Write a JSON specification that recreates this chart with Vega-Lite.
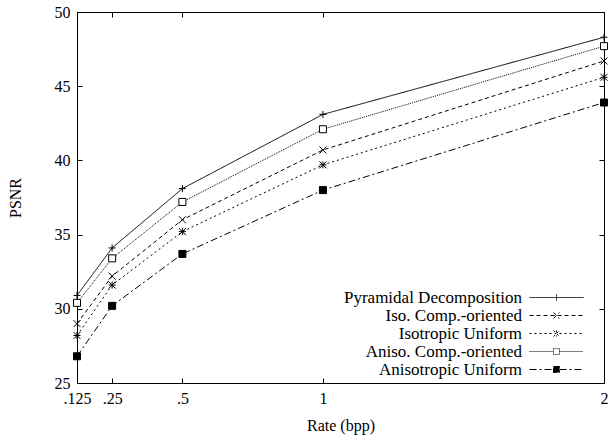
{
  "$schema": "https://vega.github.io/schema/vega-lite/v6.json",
  "width": 527,
  "height": 371,
  "autosize": {"type": "none"},
  "padding": {"left": 77, "top": 12, "right": 4, "bottom": 58},
  "background": "white",
  "config": {
    "font": "Liberation Serif",
    "view": {"stroke": "black", "strokeWidth": 1},
    "axis": {"labelFont": "Liberation Serif", "titleFont": "Liberation Serif", "labelFontSize": 16, "titleFontSize": 16, "labelColor": "black", "titleColor": "black", "titleFontWeight": "normal", "domainColor": "black", "tickColor": "black", "grid": false, "tickSize": -5, "labelFlush": false, "labelOverlap": false}
  },
  "data": {
    "values": [
      {"rate": 0.125, "psnr": 30.9, "series": "Pyramidal Decomposition"},
      {"rate": 0.25, "psnr": 34.1, "series": "Pyramidal Decomposition"},
      {"rate": 0.5, "psnr": 38.1, "series": "Pyramidal Decomposition"},
      {"rate": 1, "psnr": 43.1, "series": "Pyramidal Decomposition"},
      {"rate": 2, "psnr": 48.3, "series": "Pyramidal Decomposition"},
      {"rate": 0.125, "psnr": 29.0, "series": "Iso. Comp.-oriented"},
      {"rate": 0.25, "psnr": 32.2, "series": "Iso. Comp.-oriented"},
      {"rate": 0.5, "psnr": 36.0, "series": "Iso. Comp.-oriented"},
      {"rate": 1, "psnr": 40.7, "series": "Iso. Comp.-oriented"},
      {"rate": 2, "psnr": 46.7, "series": "Iso. Comp.-oriented"},
      {"rate": 0.125, "psnr": 28.2, "series": "Isotropic Uniform"},
      {"rate": 0.25, "psnr": 31.6, "series": "Isotropic Uniform"},
      {"rate": 0.5, "psnr": 35.2, "series": "Isotropic Uniform"},
      {"rate": 1, "psnr": 39.7, "series": "Isotropic Uniform"},
      {"rate": 2, "psnr": 45.6, "series": "Isotropic Uniform"},
      {"rate": 0.125, "psnr": 30.4, "series": "Aniso. Comp.-oriented"},
      {"rate": 0.25, "psnr": 33.4, "series": "Aniso. Comp.-oriented"},
      {"rate": 0.5, "psnr": 37.2, "series": "Aniso. Comp.-oriented"},
      {"rate": 1, "psnr": 42.1, "series": "Aniso. Comp.-oriented"},
      {"rate": 2, "psnr": 47.7, "series": "Aniso. Comp.-oriented"},
      {"rate": 0.125, "psnr": 26.8, "series": "Anisotropic Uniform"},
      {"rate": 0.25, "psnr": 30.2, "series": "Anisotropic Uniform"},
      {"rate": 0.5, "psnr": 33.7, "series": "Anisotropic Uniform"},
      {"rate": 1, "psnr": 38.0, "series": "Anisotropic Uniform"},
      {"rate": 2, "psnr": 43.9, "series": "Anisotropic Uniform"}
    ]
  },
  "layer": [
    {
      "mark": {"type": "line", "stroke": "black", "strokeWidth": 1, "clip": true},
      "encoding": {
        "x": {"field": "rate", "type": "quantitative", "scale": {"domain": [0.125, 2], "nice": false, "zero": false},
          "axis": {"values": [0.125, 0.25, 0.5, 1, 2], "title": "Rate (bpp)", "labelExpr": "datum.value < 1 ? replace(toString(datum.value), '0.', '.') : toString(datum.value)", "labelPadding": 12, "titlePadding": 11}},
        "y": {"field": "psnr", "type": "quantitative", "scale": {"domain": [25, 50], "nice": false, "zero": false},
          "axis": {"values": [25, 30, 35, 40, 45, 50], "title": "PSNR", "labelPadding": 12, "titlePadding": 31}},
        "strokeDash": {"field": "series", "type": "nominal", "title": null,
          "scale": {"domain": ["Pyramidal Decomposition", "Iso. Comp.-oriented", "Isotropic Uniform", "Aniso. Comp.-oriented", "Anisotropic Uniform"],
            "range": [[1, 0], [4, 3], [2, 3], [1, 1], [7, 3, 2, 3]]},
          "legend": {"orient": "none", "legendX": 471, "legendY": 277, "labelFont": "Liberation Serif", "labelFontSize": 17, "labelColor": "black", "labelAlign": "right", "labelOffset": -43, "labelLimit": 0, "symbolSize": 36, "rowPadding": 0, "symbolType": "M-9,0H9", "symbolStrokeColor": "black", "symbolStrokeWidth": 1,
            "encode": {"symbols": {"update": {"shape": {"signal": "datum.value === 'Pyramidal Decomposition' ? 'M-9,0H9M0,-1V1' : datum.value === 'Iso. Comp.-oriented' ? 'M-9,0H9M-1,-1L1,1M-1,1L1,-1' : datum.value === 'Isotropic Uniform' ? 'M-9,0H9M0,-1V1M-1,-1L1,1M-1,1L1,-1' : 'M-9,0H-1M1,0H9M-1,-1H1V1H-1Z'"}, "fill": {"signal": "datum.value === 'Aniso. Comp.-oriented' ? 'white' : 'black'"}, "size": {"value": 36}, "stroke": {"value": "black"}, "strokeWidth": {"value": 1}, "opacity": {"value": 1}}}}}}
      }
    },
    {
      "transform": [{"filter": "datum.series === 'Pyramidal Decomposition'"}],
      "mark": {"type": "point", "shape": "M-1,0H1M0,-1V1", "filled": false, "stroke": "black", "strokeWidth": 1, "size": 49, "opacity": 1},
      "encoding": {
        "x": {"field": "rate", "type": "quantitative", "axis": {"orient": "top", "values": [0.125, 0.25, 0.5, 1, 2], "labels": false, "title": null, "domain": false}},
        "y": {"field": "psnr", "type": "quantitative", "axis": {"orient": "right", "values": [25, 30, 35, 40, 45, 50], "labels": false, "title": null, "domain": false}}
      }
    },
    {
      "transform": [{"filter": "datum.series === 'Iso. Comp.-oriented'"}],
      "mark": {"type": "point", "shape": "M-1,-1L1,1M-1,1L1,-1", "filled": false, "stroke": "black", "strokeWidth": 1, "size": 49, "opacity": 1},
      "encoding": {
        "x": {"field": "rate", "type": "quantitative", "axis": null},
        "y": {"field": "psnr", "type": "quantitative", "axis": null}
      }
    },
    {
      "transform": [{"filter": "datum.series === 'Isotropic Uniform'"}],
      "mark": {"type": "point", "shape": "M-1,0H1M0,-1V1M-1,-1L1,1M-1,1L1,-1", "filled": false, "stroke": "black", "strokeWidth": 1, "size": 49, "opacity": 1},
      "encoding": {
        "x": {"field": "rate", "type": "quantitative", "axis": null},
        "y": {"field": "psnr", "type": "quantitative", "axis": null}
      }
    },
    {
      "transform": [{"filter": "datum.series === 'Aniso. Comp.-oriented'"}],
      "mark": {"type": "point", "shape": "square", "filled": true, "fill": "white", "stroke": "black", "strokeWidth": 1, "size": 49, "opacity": 1},
      "encoding": {
        "x": {"field": "rate", "type": "quantitative", "axis": null},
        "y": {"field": "psnr", "type": "quantitative", "axis": null}
      }
    },
    {
      "transform": [{"filter": "datum.series === 'Anisotropic Uniform'"}],
      "mark": {"type": "point", "shape": "square", "filled": true, "fill": "black", "stroke": "black", "strokeWidth": 1, "size": 49, "opacity": 1},
      "encoding": {
        "x": {"field": "rate", "type": "quantitative", "axis": null},
        "y": {"field": "psnr", "type": "quantitative", "axis": null}
      }
    }
  ],
  "resolve": {"axis": {"x": "independent", "y": "independent"}}
}
